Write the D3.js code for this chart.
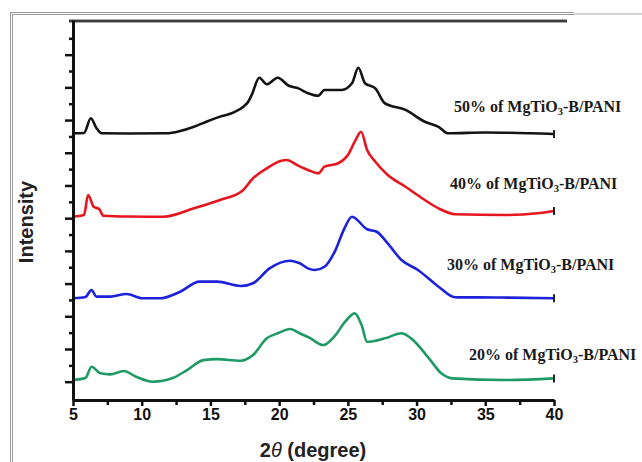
<!DOCTYPE html>
<html>
<head>
<meta charset="utf-8">
<script src="https://cdnjs.cloudflare.com/ajax/libs/d3/7.8.5/d3.min.js"></script>
<style>
  html, body { margin: 0; padding: 0; background: #fff; }
  svg { display: block; }
</style>
</head>
<body>
<div id="chart"></div>
<script>
// XRD patterns, intensity in a.u. above each pattern's own baseline
var labels = ["50% of MgTiO", "40% of MgTiO", "30% of MgTiO", "20% of MgTiO"]
var colors = ["#141414", "#e5161f", "#1d22d8", "#1f9966"]
var offsets = [15.19, 10.09, 5.1, 0.1]

var angle50 = [5, 5.8, 6.3, 6.7, 7.1, 9, 11.8, 12.8, 13.8, 14.7, 15.7, 16.7, 17.4, 17.75, 18, 18.56, 19.1, 19.9, 20.7, 21.4, 22.1, 22.85, 23.3, 24.55, 25.3, 25.76, 26.25, 27, 27.7, 29.2, 30.6, 31.6, 32.3, 35, 40]
var int50 = [0, 0.02, 0.92, 0.32, 0, -0.01, 0, 0.14, 0.4, 0.71, 1.02, 1.28, 1.63, 1.93, 2.34, 3.4, 3.0, 3.4, 2.91, 2.75, 2.45, 2.3, 2.65, 2.65, 3.06, 4.01, 3.06, 2.75, 1.83, 1.43, 0.71, 0.4, 0, 0.05, -0.04]

var angle40 = [5, 5.8, 6.1, 6.5, 6.9, 7.2, 9, 11.6, 13.8, 15.7, 17.3, 18.1, 19.1, 20.1, 20.55, 21.3, 22.1, 22.85, 23.3, 24.3, 25, 25.5, 25.96, 26.4, 27, 27.9, 29.2, 30.4, 31.6, 32.8, 36.4, 38.8, 40]
var int40 = [0, 0.1, 1.33, 0.61, 0.47, 0.06, 0.01, 0, 0.51, 1.02, 1.57, 2.35, 2.96, 3.41, 3.47, 3.16, 2.86, 2.65, 3.06, 3.27, 3.77, 4.59, 5.2, 4.08, 3.36, 2.55, 1.83, 1.13, 0.51, 0.15, 0.1, 0.21, 0.35]

var angle30 = [5, 5.9, 6.35, 6.7, 7.7, 8.9, 10.1, 11.3, 12.8, 14.2, 15.5, 17.2, 18.1, 19.3, 20.8, 21.5, 22.1, 22.6, 23.3, 24.1, 24.7, 25.3, 26.4, 27.1, 27.9, 28.9, 30.1, 31.6, 32.8, 36, 40]
var int30 = [0, 0.08, 0.51, 0.1, 0.1, 0.26, 0, 0, 0.4, 1.02, 1.02, 0.75, 0.92, 1.83, 2.3, 2.14, 1.83, 1.73, 1.93, 2.95, 4.18, 4.99, 4.22, 4.07, 3.36, 2.34, 1.73, 0.71, 0.06, 0.05, 0]

var angle20 = [5, 5.9, 6.35, 7, 7.7, 8.7, 9.6, 10.8, 12.3, 13.3, 14.5, 15.5, 17.2, 18.1, 19.1, 19.9, 20.8, 21.5, 22.2, 23.2, 24.1, 24.8, 25.5, 26, 26.4, 27.7, 28.9, 29.6, 30.9, 31.8, 32.6, 36.4, 40]
var int20 = [0, 0.12, 0.81, 0.41, 0.35, 0.55, 0.2, -0.1, 0.14, 0.61, 1.22, 1.28, 1.18, 1.53, 2.55, 2.86, 3.12, 2.86, 2.59, 2.14, 2.75, 3.57, 4.08, 3.36, 2.34, 2.55, 2.86, 2.55, 1.33, 0.41, 0.1, 0, 0.1]

var xTicks = [5, 10, 15, 20, 25, 30, 35, 40]
var labelY = [112, 189, 270, 360]
var labelX = [454, 450, 447, 469]

var angles = [angle50, angle40, angle30, angle20]
var intens = [int50, int40, int30, int20]

var width = 642
var height = 462

var svg = d3.select("#chart")
    .append("svg")
    .attr("width", width)
    .attr("height", height)

// outer frame
svg.append("path")
    .attr("d", "M11.5,462 V13.5 H574")
    .attr("fill", "none")
    .attr("stroke", "#9a9a9a")
    .attr("stroke-width", 3)
svg.append("path")
    .attr("d", "M11.5,462 V13.5 H574")
    .attr("fill", "none")
    .attr("stroke", "#fff")
    .attr("stroke-width", 1)
svg.append("line")
    .attr("x1", 574).attr("x2", 642)
    .attr("y1", 14).attr("y2", 14)
    .attr("stroke", "#aaa")
    .attr("stroke-width", 1)

var x = d3.scaleLinear().domain([5, 40]).range([73, 554])
var y = d3.scaleLinear().domain([-1.12, 22.12]).range([400, 20])

// top line of the plot box
svg.append("line")
    .attr("x1", 69).attr("x2", 567)
    .attr("y1", 21).attr("y2", 21)
    .attr("stroke", "#555")
    .attr("stroke-width", 3)
svg.append("line")
    .attr("x1", 69).attr("x2", 567)
    .attr("y1", 21).attr("y2", 21)
    .attr("stroke", "#222")
    .attr("stroke-width", 1.2)

// curves
var line = d3.line()
    .x(d => x(d[0]))
    .y(d => y(d[1]))
    .curve(d3.curveMonotoneX)

angles.forEach((a, i) => {
    var pts = a.map((t, j) => [t, intens[i][j] + offsets[i]])
    svg.append("path")
        .datum(pts)
        .attr("d", line)
        .attr("fill", "none")
        .attr("stroke", colors[i])
        .attr("stroke-width", 2.6)
        .attr("stroke-linejoin", "round")
    var last = pts[pts.length - 1]
    svg.append("line")
        .attr("x1", x(last[0])).attr("x2", x(last[0]))
        .attr("y1", y(last[1]) - 4).attr("y2", y(last[1]) + 4)
        .attr("stroke", "#222")
        .attr("stroke-width", 2)

    var t = svg.append("text")
        .attr("x", labelX[i])
        .attr("y", labelY[i])
        .attr("font-family", "'Liberation Serif', 'Times New Roman', serif")
        .attr("font-weight", "bold")
        .attr("font-size", "16px")
        .attr("fill", "#1a1a1a")
        .text(labels[i])
    t.append("tspan")
        .attr("font-size", "10.5px")
        .attr("dy", 3)
        .text("3")
    t.append("tspan")
        .attr("dy", -3)
        .text("-B/PANI")
})

// axes
var xAxis = svg.append("g")
    .attr("transform", "translate(0,400)")
    .call(d3.axisBottom(x).tickValues(xTicks).tickFormat(d3.format("d")).tickSize(6).tickSizeOuter(0).tickPadding(3))
svg.append("g")
    .attr("transform", "translate(0,400)")
    .call(d3.axisBottom(x).tickValues(d3.range(7.5, 40, 5)).tickFormat("").tickSize(5).tickSizeOuter(0))
    .select(".domain").remove()

var yAxis = svg.append("g")
    .attr("transform", "translate(73,0)")
    .call(d3.axisLeft(y).tickValues(d3.range(0, 22, 2)).tickFormat("").tickSize(8).tickSizeOuter(0))
svg.append("g")
    .attr("transform", "translate(73,0)")
    .call(d3.axisLeft(y).tickValues(d3.range(1, 22, 2)).tickFormat("").tickSize(4).tickSizeOuter(0))
    .select(".domain").remove()

svg.selectAll(".domain")
    .attr("stroke", "#111")
    .attr("stroke-width", 3)
svg.selectAll(".tick line")
    .attr("stroke", "#111")
    .attr("stroke-width", 2.5)
xAxis.selectAll(".tick text")
    .attr("font-family", "'Liberation Sans', Arial, sans-serif")
    .attr("font-weight", "bold")
    .attr("font-size", "16px")
    .attr("fill", "#111")

// axis titles
svg.append("text")
    .attr("transform", "translate(33,222) rotate(-90)")
    .attr("text-anchor", "middle")
    .attr("font-family", "'Liberation Sans', Arial, sans-serif")
    .attr("font-weight", "bold")
    .attr("font-size", "20px")
    .attr("fill", "#222")
    .text("Intensity")

var xt = svg.append("text")
    .attr("x", 313)
    .attr("y", 457)
    .attr("text-anchor", "middle")
    .attr("font-family", "'Liberation Sans', Arial, sans-serif")
    .attr("font-weight", "bold")
    .attr("font-size", "20px")
    .attr("fill", "#222")
xt.append("tspan").text("2")
xt.append("tspan").attr("font-style", "italic").attr("font-weight", "normal").text("θ")
xt.append("tspan").text(" (degree)")
</script>
</body>
</html>
